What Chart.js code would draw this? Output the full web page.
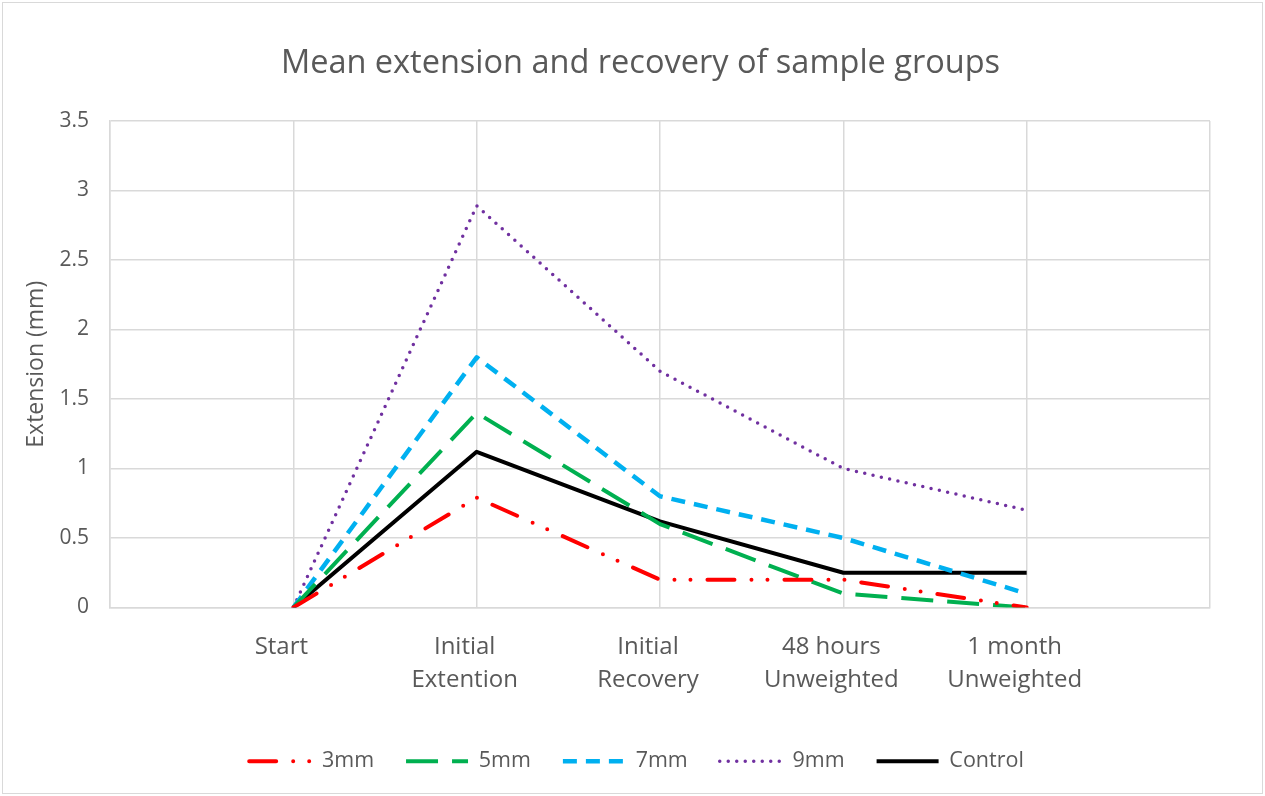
<!DOCTYPE html>
<html>
<head>
<meta charset="utf-8">
<script src="https://cdn.jsdelivr.net/npm/chart.js@4/dist/chart.umd.min.js"></script>
<style>
  html, body { margin: 0; padding: 0; background: #fff; }
  #wrap { width: 1265px; height: 796px; }
</style>
</head>
<body>
<div id="wrap"><canvas id="chart" width="1265" height="796"></canvas></div>
<script>
// categories (blank slots at both ends give the empty margins of the original)
const categories = ['', 'Start', ['Initial', 'Extention'], ['Initial', 'Recovery'], ['48 hours', 'Unweighted'], ['1 month', 'Unweighted'], ''];
const yTicks = [0, 0.5, 1, 1.5, 2, 2.5, 3, 3.5];

const mm3 = [null, 0, 0.79, 0.2, 0.2, 0, null];
const mm5 = [null, 0, 1.4, 0.6, 0.1, 0, null];
const mm7 = [null, 0, 1.8, 0.8, 0.5, 0.1, null];
const mm9 = [null, 0, 2.89, 1.7, 1.0, 0.7, null];
const control = [null, 0, 1.12, 0.62, 0.25, 0.25, null];

const GRID = '#d9d9d9';
const TEXT = '#595959';
const FONT = "'Open Sans', sans-serif";

const frame = {
  id: 'frame',
  beforeDraw(chart) {
    const ctx = chart.ctx;
    ctx.save();
    ctx.fillStyle = '#fff';
    ctx.fillRect(0, 0, chart.width, chart.height);
    ctx.strokeStyle = GRID;
    ctx.lineWidth = 1;
    ctx.strokeRect(2.5, 2.5, chart.width - 5, chart.height - 5);
    ctx.restore();
  },
  afterLayout(chart) {
    // title and legend sit a bit right of the plot centre in the original
    chart.titleBlock.left += 26;
    chart.titleBlock.right += 26;
    chart.legend.left += 22;
    chart.legend.right += 22;
  }
};

function series(label, data, color, width, dash, cap) {
  return {
    label: label,
    data: data,
    borderColor: color,
    backgroundColor: color,
    borderWidth: width,
    borderDash: dash,
    borderCapStyle: cap,
    borderJoinStyle: 'round',
    pointRadius: 0,
    pointHoverRadius: 0,
    pointStyle: 'line',
    tension: 0,
    fill: false
  };
}

const ctx = document.getElementById('chart').getContext('2d');
new Chart(ctx, {
  type: 'line',
  data: {
    labels: categories,
    datasets: [
      series('3mm', mm3, '#FF0000', 4, [27, 17, 0, 16, 0, 17], 'round'),
      series('5mm', mm5, '#00B050', 4, [32, 14], 'butt'),
      series('7mm', mm7, '#00B0F0', 4.5, [14, 9], 'butt'),
      series('9mm', mm9, '#7030A0', 3.5, [0, 8.5], 'round'),
      series('Control', control, '#000000', 4, [], 'butt')
    ]
  },
  options: {
    responsive: false,
    animation: false,
    layout: { padding: { left: 19, right: 55, top: 0, bottom: 14 } },
    plugins: {
      title: {
        display: true,
        text: 'Mean extension and recovery of sample groups',
        color: TEXT,
        font: { family: FONT, size: 32.5, weight: 'normal' },
        padding: { top: 44.5, bottom: 37.5 }
      },
      legend: {
        position: 'bottom',
        labels: {
          color: TEXT,
          font: { family: FONT, size: 21.5 },
          usePointStyle: true,
          pointStyleWidth: 62,
          padding: 32,
          generateLabels(chart) {
            const items = Chart.defaults.plugins.legend.labels.generateLabels(chart);
            items.forEach((it) => {
              const ds = chart.data.datasets[it.datasetIndex];
              it.lineDash = ds.borderDash;
              it.lineCap = ds.borderCapStyle;
              it.strokeStyle = ds.borderColor;
              it.lineWidth = ds.borderWidth;
              it.pointStyle = 'line';
            });
            return items;
          }
        }
      },
      tooltip: { enabled: false }
    },
    scales: {
      x: {
        offset: false,
        afterFit(scale) {
          scale.height = 111;
        },
        grid: { color: GRID, lineWidth: 1.5, drawTicks: false },
        border: { color: GRID, width: 1.5 },
        ticks: {
          color: TEXT,
          font: { family: FONT, size: 24, lineHeight: 1.375 },
          padding: 23.5,
          labelOffset: -12,
          autoSkip: false,
          maxRotation: 0,
          minRotation: 0
        }
      },
      y: {
        min: 0,
        max: 3.5,
        afterBuildTicks(scale) {
          scale.ticks = yTicks.map(v => ({ value: v }));
        },
        afterFit(scale) {
          scale.width = 91;
        },
        grid: { color: GRID, lineWidth: 1.5, drawTicks: false },
        border: { color: GRID, width: 1.5 },
        ticks: {
          color: TEXT,
          font: { family: FONT, size: 21 },
          padding: 21,
          callback: (v) => String(v)
        },
        title: {
          display: true,
          text: 'Extension (mm)',
          color: TEXT,
          font: { family: FONT, size: 23 }
        }
      }
    }
  },
  plugins: [frame]
});
</script>
</body>
</html>
